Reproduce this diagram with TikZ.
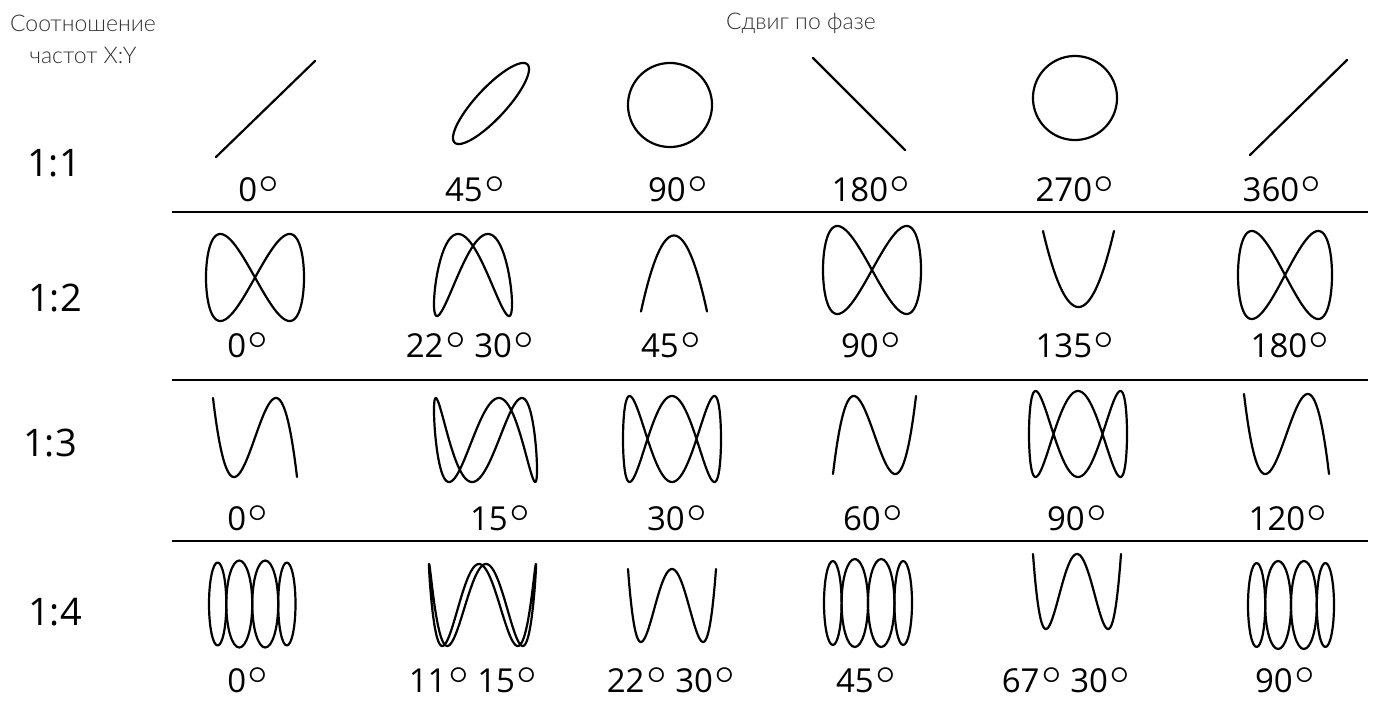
\documentclass[tikz,border=0pt]{standalone}
\usepackage{fontspec}
\setmainfont{Open Sans}
\newfontfamily\hdrfont{Lato Light}
\tikzset{
  curve/.style={line width=2.2pt, line join=round, line cap=round},
  rule/.style={line width=2.6pt},
  lbl/.style={font=\fontsize{33}{33}\selectfont, inner sep=0pt},
  ratiolbl/.style={font=\fontsize{38}{38}\selectfont, inner sep=0pt},
  hdr/.style={font=\hdrfont\fontsize{23}{32}\selectfont, text=black!80, inner sep=0pt, align=center},
}
\newsavebox\dgbox
\newsavebox\zerobox
\newlength\dgshift
\newcommand\dg{\kern1.5pt\sbox\dgbox{\hdrfont\fontsize{50}{50}\selectfont °}%
  \sbox\zerobox{0}%
  \setlength\dgshift{\dimexpr\ht\zerobox-\ht\dgbox+1.5pt\relax}%
  \sbox\dgbox{\raise\dgshift\copy\dgbox}%
  \dp\dgbox=0pt\ht\dgbox=\ht\zerobox
  \usebox\dgbox}
% cx cy rx ry n phase
\newcommand\liss[6]{%
  \draw[curve] plot[domain=0:360, samples=240, variable=\t] ({#1+#3*sin(\t)},{#2-#4*sin(#5*\t+#6)});
}
% left right cy ry(outer) ry(inner)
\newcommand\lobes[5]{%
  \pgfmathsetmacro\lw{#2-#1}%
  \draw[curve] ({#1+0.1*\lw},#3) ellipse[x radius={0.1*\lw}, y radius=#4];
  \draw[curve] ({#1+0.35*\lw},#3) ellipse[x radius={0.15*\lw}, y radius=#5];
  \draw[curve] ({#1+0.65*\lw},#3) ellipse[x radius={0.15*\lw}, y radius=#5];
  \draw[curve] ({#1+0.9*\lw},#3) ellipse[x radius={0.1*\lw}, y radius=#4];
}
\begin{document}
\begin{tikzpicture}[x=1pt,y=-1pt]
\path[use as bounding box] (0,0) rectangle (1373,704);
% headers
\node[hdr] (hratio) at (83,39) {Соотношение\\частот X:Y};
\node[hdr] (hphase) at (801,23) {Сдвиг по фазе};
% ratio labels
\node[ratiolbl] (r1) at (54,163) {1:1};
\node[ratiolbl] (r2) at (55,298) {1:2};
\node[ratiolbl] (r3) at (50,443) {1:3};
\node[ratiolbl] (r4) at (55,612) {1:4};
% rules
\coordinate (ra1) at (172,212); \coordinate (rb1) at (1368,212);
\coordinate (ra2) at (172,380); \coordinate (rb2) at (1368,380);
\coordinate (ra3) at (172,541); \coordinate (rb3) at (1368,541);
\draw[rule] (ra1) -- (rb1);
\draw[rule] (ra2) -- (rb2);
\draw[rule] (ra3) -- (rb3);
% row 1:1
\coordinate (l0a) at (216,157); \coordinate (l0b) at (315,61);
\draw[curve] (l0a) -- (l0b);
\liss{491}{103.5}{38}{40.5}{1}{32}
\liss{670}{105}{42}{42}{1}{90}
\coordinate (l180a) at (813,58); \coordinate (l180b) at (905,150);
\draw[curve] (l180a) -- (l180b);
\liss{1075}{98}{42}{42}{1}{90}
\coordinate (l360a) at (1250,155); \coordinate (l360b) at (1347,60);
\draw[curve] (l360a) -- (l360b);
\node[lbl] (a1) at (259,190) {0\dg};
\node[lbl] (a2) at (475,190) {45\dg};
\node[lbl] (a3) at (678,190) {90\dg};
\node[lbl] (a4) at (871,190) {180\dg};
\node[lbl] (a5) at (1075,190) {270\dg};
\node[lbl] (a6) at (1282,190) {360\dg};
% row 1:2
\liss{255}{277.5}{49}{43.5}{2}{0}
\liss{473}{275}{39}{41}{2}{45}
\liss{674}{273.5}{33}{38}{2}{90}
\liss{872}{270}{49}{44}{2}{180}
\liss{1078.5}{269}{35.5}{38}{2}{270}
\liss{1285}{275}{47}{44}{2}{360}
\node[lbl] (b1) at (248,346) {0\dg};
\node[lbl] (b2) at (470,346) {22\dg{} 30\dg};
\node[lbl] (b3) at (671,346) {45\dg};
\node[lbl] (b4) at (871,346) {90\dg};
\node[lbl] (b5) at (1075,346) {135\dg};
\node[lbl] (b6) at (1290,346) {180\dg};
% row 1:3
\liss{255}{437.5}{42}{39.5}{3}{0}
\liss{485.5}{440}{51.5}{42}{3}{45}
\liss{672}{439}{49}{43}{3}{90}
\liss{874.5}{435}{41.5}{39}{3}{180}
\liss{1078}{434}{49}{43}{3}{270}
\liss{1286.5}{434}{42.5}{40}{3}{360}
\node[lbl] (c1) at (248,519) {0\dg};
\node[lbl] (c2) at (500,519) {15\dg};
\node[lbl] (c3) at (677,519) {30\dg};
\node[lbl] (c4) at (873,519) {60\dg};
\node[lbl] (c5) at (1077,519) {90\dg};
\node[lbl] (c6) at (1288,519) {120\dg};
% row 1:4
\lobes{209}{295.5}{604}{41.5}{43.5}
\liss{482.5}{605}{53.5}{41}{4}{75}
\liss{672}{605.5}{44}{36.5}{4}{90}
\lobes{824}{912}{603}{42}{44}
\liss{1077}{591.5}{44}{37.5}{4}{90}
\lobes{1248}{1334}{605}{42}{44}
\node[lbl] (d1) at (248,681) {0\dg};
\node[lbl] (d2) at (473,681) {11\dg{} 15\dg};
\node[lbl] (d3) at (671,681) {22\dg{} 30\dg};
\node[lbl] (d4) at (866,681) {45\dg};
\node[lbl] (d5) at (1066,681) {67\dg{} 30\dg};
\node[lbl] (d6) at (1285,681) {90\dg};
\end{tikzpicture}
\end{document}
